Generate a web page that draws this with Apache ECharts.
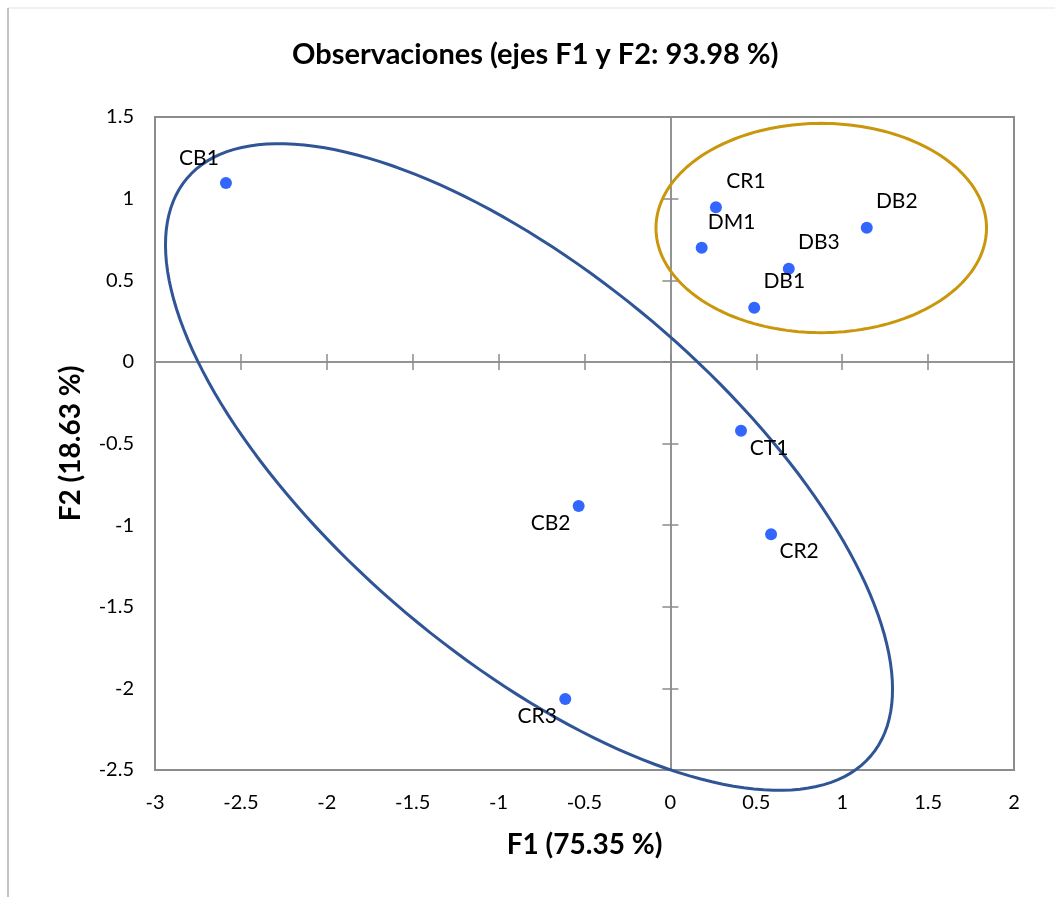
<!DOCTYPE html>
<html>
<head>
<meta charset="utf-8">
<script src="https://cdn.jsdelivr.net/npm/echarts@6/dist/echarts.min.js"></script>
<style>
html,body{margin:0;padding:0;background:#fff;}
#chart{width:1055px;height:897px;}
</style>
</head>
<body>
<div id="chart"></div>
<script>
// ---- data ----
var names = ['CB1','CR1','DM1','DB2','DB3','DB1','CT1','CB2','CR2','CR3'];
var f1 = [-2.587, 0.265, 0.182, 1.143, 0.689, 0.488, 0.411, -0.534, 0.586, -0.612];
var f2 = [1.096, 0.947, 0.699, 0.822, 0.571, 0.332, -0.422, -0.883, -1.056, -2.065];
var labelSide = ['ul','ur','ur','ur','ur','ur','dr','dl','dr','dl'];
// ellipses: centre (F1,F2), half-axis vector u, half-axis vector v (data units)
var blueEllipse = [-0.823, -0.644, 1.991, -1.768, -0.7164, -0.8931];
var goldEllipse = [0.878, 0.820, 0.962, 0, 0, 0.641];
var ellipseColors = ['#2f5597', '#c9960c'];
var xTicks = {min: -3, max: 2, interval: 0.5};
var yTicks = {min: -2.5, max: 1.5, interval: 0.5};

var FONT = 'Lato';
var sideOffset = {ul: [-27, -25], ur: [30, -26], dr: [28, 17], dl: [-28, 17]};

var points = names.map(function (n, i) {
  return {
    name: n,
    value: [f1[i], f2[i]],
    label: {offset: sideOffset[labelSide[i]]}
  };
});

var chart = echarts.init(document.getElementById('chart'));
var gray = '#8c8c8c';

function tickAxis(dim, inside) {
  return {
    type: 'value',
    min: dim === 'x' ? xTicks.min : yTicks.min,
    max: dim === 'x' ? xTicks.max : yTicks.max,
    interval: dim === 'x' ? xTicks.interval : yTicks.interval,
    position: dim === 'x' ? 'bottom' : 'left',
    axisLine: {show: true, onZero: true, onZeroAxisIndex: 0, lineStyle: {color: gray, width: 1.5}},
    axisTick: {show: true, inside: inside, length: 8, lineStyle: {color: gray, width: 1.5}},
    axisLabel: {show: false},
    splitLine: {show: false}
  };
}

var option = {
  backgroundColor: '#fff',
  animation: false,
  title: {
    text: 'Observaciones (ejes F1 y F2: 93.98 %)',
    left: 292, top: 40,
    padding: 0,
    textStyle: {fontFamily: FONT, fontWeight: 'bold', fontSize: 29, color: '#000'}
  },
  graphic: [
    {type: 'line', shape: {x1: 8, y1: 8, x2: 1055, y2: 8}, style: {stroke: '#e3e3e3', lineWidth: 1}, silent: true},
    {type: 'line', shape: {x1: 8, y1: 8, x2: 8, y2: 897}, style: {stroke: '#b0b0b0', lineWidth: 1.5}, silent: true}
  ],
  grid: {
    left: 155, top: 117, width: 859, height: 653,
    show: true, borderColor: '#8c8c8c', borderWidth: 2, backgroundColor: 'transparent',
    containLabel: false
  },
  xAxis: [
    {
      type: 'value', min: xTicks.min, max: xTicks.max, interval: xTicks.interval,
      position: 'bottom',
      axisLine: {show: false, onZero: false},
      axisTick: {show: false},
      splitLine: {show: false},
      axisLabel: {fontFamily: FONT, fontSize: 20, color: '#000', margin: 23},
      name: 'F1 (75.35 %)', nameLocation: 'middle', nameGap: 61,
      nameTextStyle: {fontFamily: FONT, fontWeight: 'bold', fontSize: 28, color: '#000'}
    },
    tickAxis('x', true),
    tickAxis('x', false)
  ],
  yAxis: [
    {
      type: 'value', min: yTicks.min, max: yTicks.max, interval: yTicks.interval,
      position: 'left',
      axisLine: {show: false, onZero: false},
      axisTick: {show: false},
      splitLine: {show: false},
      axisLabel: {fontFamily: FONT, fontSize: 20, color: '#000', margin: 21},
      name: 'F2 (18.63 %)', nameLocation: 'middle', nameGap: 70, nameRotate: 90,
      nameTextStyle: {fontFamily: FONT, fontWeight: 'bold', fontSize: 28, color: '#000'}
    },
    tickAxis('y', true),
    tickAxis('y', false)
  ],
  series: [
    {
      type: 'custom',
      xAxisIndex: 0, yAxisIndex: 0,
      clip: false,
      silent: true,
      z: 3,
      data: [blueEllipse, goldEllipse],
      renderItem: function (params, api) {
        var cx = api.value(0), cy = api.value(1);
        var ux = api.value(2), uy = api.value(3), vx = api.value(4), vy = api.value(5);
        var pts = [];
        var N = 180;
        for (var k = 0; k < N; k++) {
          var t = 2 * Math.PI * k / N;
          var c = Math.cos(t), s = Math.sin(t);
          pts.push(api.coord([cx + ux * c + vx * s, cy + uy * c + vy * s]));
        }
        return {
          type: 'polygon',
          shape: {points: pts},
          style: {fill: 'none', stroke: ellipseColors[params.dataIndex], lineWidth: 3}
        };
      }
    },
    {
      type: 'scatter',
      xAxisIndex: 0, yAxisIndex: 0,
      symbol: 'circle',
      symbolSize: 12,
      z: 4,
      itemStyle: {color: '#3366ff', opacity: 1},
      label: {
        show: true,
        position: 'inside',
        formatter: '{b}',
        align: 'center', verticalAlign: 'middle',
        fontFamily: FONT, fontSize: 21, color: '#000'
      },
      data: points
    }
  ]
};
chart.setOption(option);
</script>
</body>
</html>
